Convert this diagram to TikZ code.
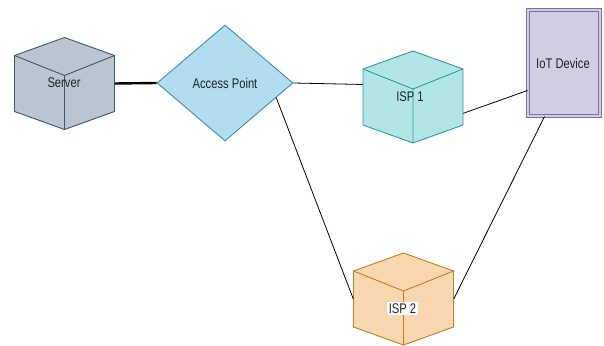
\documentclass[tikz,border=0pt]{standalone}
\usepackage{fontspec}
\setmainfont{Liberation Sans}[FakeStretch=0.8]
\usetikzlibrary{shapes.geometric,backgrounds}
\definecolor{srvfill}{HTML}{B9C5D0}
\definecolor{srvdraw}{HTML}{3F556B}
\definecolor{apfill}{HTML}{B1DDEF}
\definecolor{apdraw}{HTML}{3D8DB5}
\definecolor{ispafill}{HTML}{B2E5E5}
\definecolor{ispadraw}{HTML}{2F9C9C}
\definecolor{ispbfill}{HTML}{F9D7AE}
\definecolor{ispbdraw}{HTML}{C47D22}
\definecolor{iotfill}{HTML}{D1CEE3}
\definecolor{iotdraw}{HTML}{7B6FA3}
\definecolor{txt}{HTML}{222222}
\newcommand\drawcube[3]{%
  \filldraw[fill=#2,draw=#3,line width=0.9pt,line join=round]
    (#1.center) ++(0,-46) -- ++(50,18) -- ++(0,56) -- ++(-50,18) -- ++(-50,-18) -- ++(0,-56) -- cycle;
  \draw[#3,line width=0.9pt,line join=round]
    (#1.center) ++(-50,-28) -- ++(50,20) -- ++(50,-20)
    (#1.center) ++(0,-8) -- ++(0,54);
}
\begin{document}
\begin{tikzpicture}[x=1pt,y=-1pt,
  lbl/.style={font=\fontsize{14}{16}\selectfont,text=txt,inner sep=1.5pt},
  cubebox/.style={minimum width=100pt,minimum height=92pt,inner sep=0pt},
  link/.style={draw=black,line width=0.8pt},
  thicklink/.style={draw=black,line width=2.4pt}]
\useasboundingbox (0,0) rectangle (604,345);
\fill[white] (0,0) rectangle (604,345);
% cube holders
\node[cubebox] (server) at (64.5,83.5) {};
\node[cubebox] (isp1) at (413,97) {};
\node[cubebox] (isp2) at (403.5,299) {};
\drawcube{server}{srvfill}{srvdraw}
\drawcube{isp1}{ispafill}{ispadraw}
\drawcube{isp2}{ispbfill}{ispbdraw}
% access point
\node[diamond,draw=apdraw,fill=apfill,line width=0.9pt,minimum width=136pt,minimum height=116pt,inner sep=0pt] (ap) at (225,83) {};
% IoT device
\node[rectangle,draw=iotdraw,fill=iotfill,line width=1pt,double=iotfill,double distance=2pt,minimum width=72pt,minimum height=106pt,inner sep=0pt] (iot) at (564,63) {};
% labels
\node[lbl] (serverlbl) at (64,82.5) {Server};
\node[lbl] (aplbl) at (225,83) {Access Point};
\node[lbl] (isp1lbl) at (410,97) {ISP 1};
\node[lbl,fill=white] (isp2lbl) at (402.5,308.5) {ISP 2};
\node[lbl] (iotlbl) at (563,63) {IoT Device};
% connectors
\draw[thicklink] (server.east) -- (ap.west);
\draw[link] (ap.east) -- (isp1.166);
\draw[link] (isp1.-18) -- (iot.-143);
\draw[link] (ap.-16) -- (isp2.west);
\draw[link] (iot.250) -- (isp2.east);
\end{tikzpicture}
\end{document}
